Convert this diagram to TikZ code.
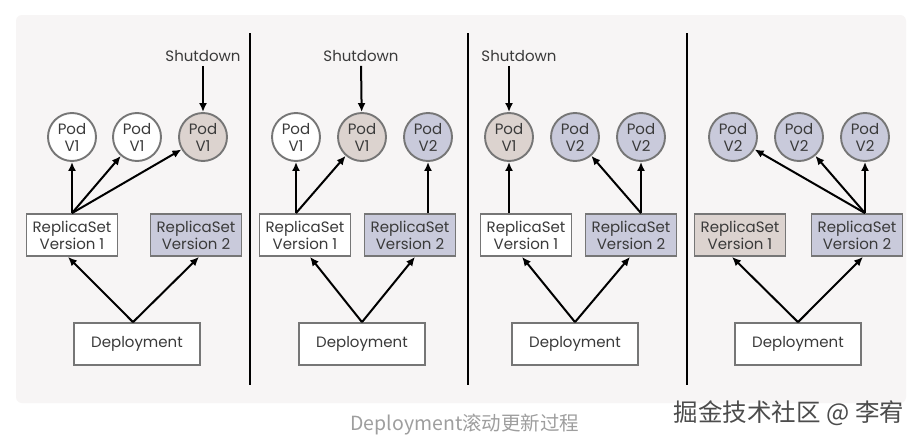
\documentclass[tikz,border=0pt]{standalone}
\usepackage{fontspec}
\setmainfont{Poppins}
\newfontfamily\cjk{Noto Sans CJK SC}
\usetikzlibrary{arrows.meta}
\definecolor{bgc}{HTML}{F7F5F5}
\definecolor{vtwo}{HTML}{C9CADB}
\definecolor{vold}{HTML}{DCD3CF}
\definecolor{edgec}{HTML}{767676}
\definecolor{txt}{HTML}{3A3A3A}
\begin{document}
\begin{tikzpicture}[x=1pt,y=-1pt,
 every node/.style={font=\fontsize{15}{17}\selectfont, text=txt},
 pod/.style={circle, draw=edgec, line width=1.9pt, minimum size=48pt, inner sep=0pt, align=center, fill=white},
 rsbox/.style={draw=edgec, line width=1.8pt, minimum width=91pt, minimum height=42pt, inner sep=0pt, align=center, fill=white},
 depbox/.style={rsbox, minimum width=126pt},
 newv/.style={fill=vtwo},
 oldv/.style={fill=vold},
 arr/.style={-{Latex[length=9pt,width=8pt]}, line width=2pt, black},
 divider/.style={line width=1.3pt, black},
 label/.style={inner sep=1pt}]
\useasboundingbox (0,0) rectangle (923,447);
\fill[white] (0,0) rectangle (923,447);
\fill[bgc, rounded corners=6pt] (16,15) rectangle (906,403);
% dividers
\draw[divider] (250,33) -- (250,385);
\draw[divider] (468,33) -- (468,385);
\draw[divider] (687,33) -- (687,385);

% ---------- panel 1
\node[pod] (a1) at (72,137) {Pod\\V1};
\node[pod] (a2) at (137,137) {Pod\\V1};
\node[pod, oldv] (a3) at (203,137) {Pod\\V1};
\node[rsbox] (ar1) at (72,235) {ReplicaSet\\Version 1};
\node[rsbox, newv] (ar2) at (196,235) {ReplicaSet\\Version 2};
\node[depbox] (ad) at (137,344) {Deployment};
\node[label] (as) at (203,56) {Shutdown};
\draw[arr, shorten <=3pt] (as.south) -- (a3);
\draw[arr] (ar1.north) -- (a1);
\draw[arr] (ar1.north) -- (a2);
\draw[arr] (ar1.north) -- (a3);
\draw[arr] ([xshift=-4pt]ad.north) -- ([xshift=-4pt]ar1.south);
\draw[arr] ([xshift=-4pt]ad.north) -- ([xshift=3pt]ar2.south);

% ---------- panel 2
\node[pod] (b1) at (296,137) {Pod\\V1};
\node[pod, oldv] (b2) at (362,137) {Pod\\V1};
\node[pod, newv] (b3) at (428,137) {Pod\\V2};
\node[rsbox] (br1) at (305,235) {ReplicaSet\\Version 1};
\node[rsbox, newv] (br2) at (410,235) {ReplicaSet\\Version 2};
\node[depbox] (bd) at (362,344) {Deployment};
\node[label] (bs) at (361,56) {Shutdown};
\draw[arr, shorten <=3pt] (bs.south) -- (b2);
\draw[arr] ([xshift=-9pt]br1.north) -- (b1);
\draw[arr] ([xshift=-9pt]br1.north) -- (b2);
\draw[arr] ([xshift=18pt]br2.north) -- (b3);
\draw[arr] (bd.north) -- ([xshift=5pt]br1.south);
\draw[arr] (bd.north) -- ([xshift=5pt]br2.south);

% ---------- panel 3
\node[pod, oldv] (c1) at (509,137) {Pod\\V1};
\node[pod, newv] (c2) at (575,137) {Pod\\V2};
\node[pod, newv] (c3) at (641,137) {Pod\\V2};
\node[rsbox] (cr1) at (526,235) {ReplicaSet\\Version 1};
\node[rsbox, newv] (cr2) at (631,235) {ReplicaSet\\Version 2};
\node[depbox] (cd) at (575,344) {Deployment};
\node[label] (cs) at (519,56) {Shutdown};
\draw[arr, shorten <=3pt] ([xshift=-10pt]cs.south) -- (c1);
\draw[arr] ([xshift=-17pt]cr1.north) -- (c1);
\draw[arr] ([xshift=10pt]cr2.north) -- (c2);
\draw[arr] ([xshift=10pt]cr2.north) -- (c3);
\draw[arr] (cd.north) -- ([xshift=-4pt]cr1.south);
\draw[arr] (cd.north) -- ([xshift=-1pt]cr2.south);

% ---------- panel 4
\node[pod, newv] (d1) at (733,137) {Pod\\V2};
\node[pod, newv] (d2) at (799,137) {Pod\\V2};
\node[pod, newv] (d3) at (865,137) {Pod\\V2};
\node[rsbox, oldv] (dr1) at (740,235) {ReplicaSet\\Version 1};
\node[rsbox, newv] (dr2) at (857,235) {ReplicaSet\\Version 2};
\node[depbox] (dd) at (798,344) {Deployment};
\draw[arr] ([xshift=8pt]dr2.north) -- (d1);
\draw[arr] ([xshift=8pt]dr2.north) -- (d2);
\draw[arr] ([xshift=8pt]dr2.north) -- (d3);
\draw[arr] (dd.north) -- ([xshift=-8pt]dr1.south);
\draw[arr] (dd.north) -- ([xshift=6pt]dr2.south);

% captions
\node[font=\cjk\fontsize{19.5}{22}\selectfont, text=black!38] (cap) at (465,425) {Deployment滚动更新过程};
\node[font=\cjk\fontsize{24.5}{27}\selectfont, text=black!70] (wm) at (789,413) {掘金技术社区 @ 李宥};
\end{tikzpicture}
\end{document}
